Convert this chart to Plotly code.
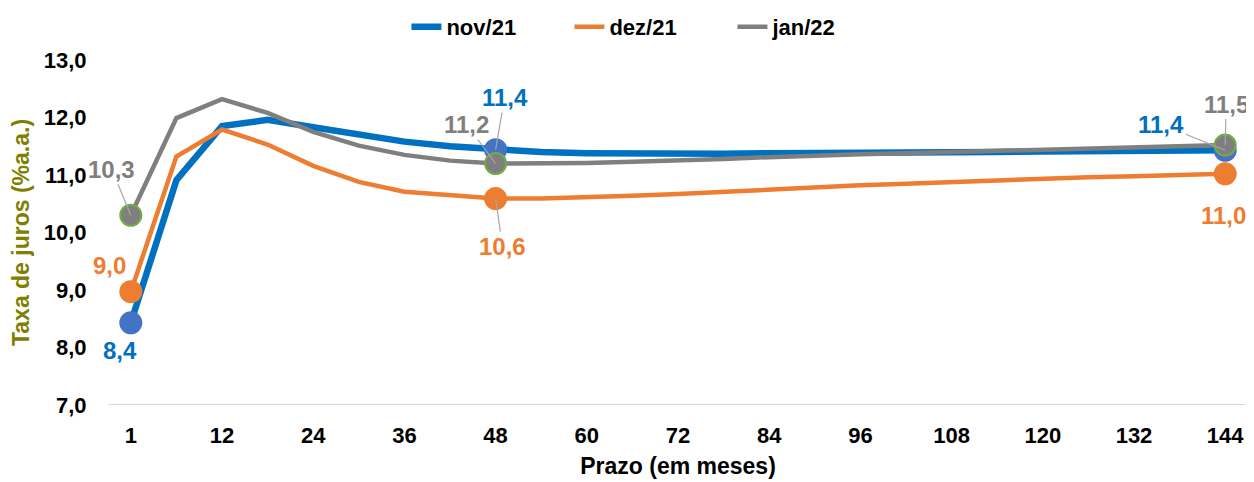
import plotly.graph_objects as go

prazos = [1, 6, 12, 18, 24, 30, 36, 42, 48, 54, 60, 66, 72, 78, 84, 90, 96, 102, 108, 114, 120, 126, 132, 138, 144]
tick_labels = ["1", "12", "24", "36", "48", "60", "72", "84", "96", "108", "120", "132", "144"]

nov21 = [8.43, 10.91, 11.85, 11.96, 11.83, 11.70, 11.58, 11.50, 11.44, 11.40, 11.38, 11.37, 11.37,
         11.37, 11.38, 11.38, 11.39, 11.39, 11.40, 11.40, 11.41, 11.41, 11.42, 11.42, 11.43]
dez21 = [8.97, 11.32, 11.79, 11.53, 11.16, 10.88, 10.71, 10.65, 10.59, 10.59, 10.61, 10.64, 10.67,
         10.71, 10.75, 10.78, 10.82, 10.85, 10.88, 10.91, 10.93, 10.96, 10.98, 11.00, 11.02]
jan22 = [10.30, 11.99, 12.32, 12.08, 11.75, 11.51, 11.35, 11.25, 11.20, 11.20, 11.21, 11.23, 11.25,
         11.28, 11.31, 11.34, 11.36, 11.38, 11.40, 11.42, 11.44, 11.46, 11.48, 11.50, 11.52]

marked = [0, 8, 24]  # indices of prazos 1, 48, 144

BLUE, ORANGE, GRAY = "#0070C0", "#ED7D31", "#7F7F7F"
FONT = "Liberation Sans, Arial, sans-serif"

idx = list(range(len(prazos)))
fig = go.Figure()

series = [
    ("nov/21", nov21, BLUE, 6.5, dict(color="#4472C4", size=23)),
    ("dez/21", dez21, ORANGE, 4.5, dict(color=ORANGE, size=23)),
    ("jan/22", jan22, GRAY, 4.5, dict(color=GRAY, size=21, line=dict(color="#70AD47", width=2))),
]
for name, vals, col, w, mk in series:
    fig.add_trace(go.Scatter(x=idx, y=vals, mode="lines", name=name,
                             line=dict(color=col, width=w), hoverinfo="skip"))
    fig.add_trace(go.Scatter(x=[idx[i] for i in marked], y=[vals[i] for i in marked],
                             mode="markers", marker=mk, showlegend=False, hoverinfo="skip"))

def fmt(v):
    return f"{v:.1f}".replace(".", ",")

# (series values, color, index, ax, ay, leader)
labels = [
    (nov21, BLUE, 0, -11, 28, False),
    (dez21, ORANGE, 0, -21, -26, False),
    (jan22, GRAY, 0, -19, -46, True),
    (nov21, BLUE, 8, 9, -52, True),
    (jan22, GRAY, 8, -29, -39, True),
    (dez21, ORANGE, 8, 7, 48, True),
    (nov21, BLUE, 24, -64, -26, True),
    (jan22, GRAY, 24, 1, -41, True),
    (dez21, ORANGE, 24, -2, 42, False),
]
for vals, col, i, ax, ay, leader in labels:
    v = vals[i]
    txt = fmt(round(v, 1))
    if leader:
        fig.add_annotation(x=idx[i], y=v, ax=ax, ay=ay, text=txt, showarrow=True,
                           arrowhead=0, arrowwidth=1.2, arrowcolor="#A6A6A6",
                           font=dict(family=FONT, size=24, color=col, weight="bold"))
    else:
        fig.add_annotation(x=idx[i], y=v, xshift=ax, yshift=-ay, text=txt,
                           showarrow=False, font=dict(family=FONT, size=24, color=col, weight="bold"))

fig.update_layout(
    width=1246, height=474,
    margin=dict(l=100, r=6, t=52, b=77, autoexpand=False),
    paper_bgcolor="white", plot_bgcolor="white",
    separators=",.",
    font=dict(family=FONT, color="black"),
    showlegend=True,
    legend=dict(orientation="h", x=0.516, xanchor="center", xref="container",
                y=1 - 19 / 474, yanchor="middle", yref="container",
                font=dict(family=FONT, size=22, color="black", weight="bold"),
                entrywidth=118, traceorder="normal"),
    xaxis=dict(range=[-0.5, 24.5], tickmode="array", tickvals=idx[::2], ticktext=tick_labels,
               showgrid=False, zeroline=False, showline=False,
               ticks="outside", ticklen=11, tickcolor="rgba(0,0,0,0)",
               tickfont=dict(family=FONT, size=22, color="black", weight="bold"),
               title=dict(text="Prazo (em meses)", standoff=10,
                          font=dict(family=FONT, size=23, color="black", weight="bold"))),
    yaxis=dict(range=[7, 13], dtick=1, tickformat=".1f", showgrid=False, zeroline=False,
               showline=False, ticks="outside", ticklen=16, tickcolor="rgba(0,0,0,0)",
               tickfont=dict(family=FONT, size=22, color="black", weight="bold"),
               title=dict(text="Taxa de juros (%a.a.)", standoff=8,
                          font=dict(family=FONT, size=23, color="#808000", weight="bold"))),
)
fig.add_shape(type="line", xref="paper", yref="y", x0=0, x1=1, y0=7, y1=7,
              line=dict(color="#D9D9D9", width=2))

fig.write_html("out.html")
